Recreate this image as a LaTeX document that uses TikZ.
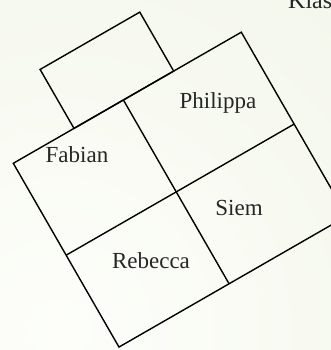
\documentclass[tikz,border=0pt]{standalone}
\usepackage{fontspec}
\setmainfont{Liberation Serif}
\usetikzlibrary{positioning}

\definecolor{slidebg}{RGB}{236,241,224}
\definecolor{slidelight}{RGB}{253,254,250}

\begin{document}
\begin{tikzpicture}[
        x=1pt, y=1pt,
        wall/.style={draw=black, line width=1.4pt, line join=miter},
        room/.style={font=\fontsize{23}{25}\selectfont, text=black!85, inner sep=0pt},
        title/.style={font=\fontsize{24}{26}\selectfont, text=black!85, anchor=base west, inner sep=0pt}
    ]
        % Background (slide)
        \useasboundingbox (0,0) rectangle (331,350);
        \clip (0,0) rectangle (331,350);
        \shade[inner color=slidelight, outer color=slidebg, shading=radial] (-740,-780) rectangle (860,820);

        % Title (cut off)
        \node[title] (klas) at (288,341) {Klas};

        % Floor plan (rotated block)
        \begin{scope}[shift={(13.3,186.7)}, rotate=29.9]
            \draw[wall] (70,0) rectangle (185,68);
            \draw[wall] (0,0) rectangle (263,-212);
            \draw[wall] (127,0) -- (127,-212);
            \draw[wall] (0,-106) -- (263,-106);
        \end{scope}

        % Room labels
        \node[room] (fabian) at (77,195) {Fabian};
        \node[room] (philippa) at (218,247) {Philippa};
        \node[room] (siem) at (239,142) {Siem};
        \node[room] (rebecca) at (151,89) {Rebecca};

    \end{tikzpicture}
\end{document}
